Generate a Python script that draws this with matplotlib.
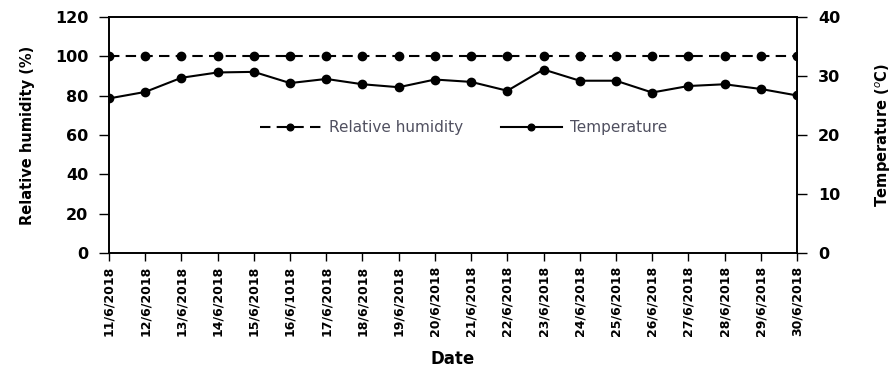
import matplotlib.pyplot as plt
import numpy as np

dates = ['11/6/2018', '12/6/2018', '13/6/2018', '14/6/2018', '15/6/2018',
         '16/6/1018', '17/6/2018', '18/6/2018', '19/6/2018', '20/6/2018',
         '21/6/2018', '22/6/2018', '23/6/2018', '24/6/2018', '25/6/2018',
         '26/6/2018', '27/6/2018', '28/6/2018', '29/6/2018', '30/6/2018']
humidity = [100] * 20
temperature = [26.2, 27.3, 29.7, 30.6, 30.7, 28.8, 29.5, 28.6, 28.1, 29.4,
               29.0, 27.5, 31.1, 29.2, 29.2, 27.2, 28.3, 28.6, 27.8, 26.7]

x = np.arange(len(dates))

fig = plt.figure(figsize=(8.95, 3.67), dpi=100)
ax = fig.add_axes([0.1218, 0.3106, 0.7687, 0.6431])
ax2 = ax.twinx()

l1, = ax.plot(x, humidity, '--', color='black', marker='o', markersize=6,
              linewidth=1.5, dashes=(5, 3), label='Relative humidity')
l2, = ax2.plot(x, temperature, '-', color='black', marker='o', markersize=6,
               linewidth=1.5, label='Temperature')

ax.set_xlim(0, len(dates) - 1)
ax.set_ylim(0, 120)
ax.set_yticks(range(0, 121, 20))
ax2.set_ylim(0, 40)
ax2.set_yticks(range(0, 41, 10))

ax.set_xticks(x)
ax.set_xticklabels(dates, rotation=90, fontsize=9, fontweight='bold')
for lab in ax.get_yticklabels() + ax2.get_yticklabels():
    lab.set_fontweight('bold')
    lab.set_fontsize(11.5)

ax.set_ylabel('Relative humidity (%)', fontsize=10.5, fontweight='bold',
              labelpad=14)
ax2.set_ylabel('Temperature ($^o$C)', fontsize=10.5, fontweight='bold',
               labelpad=24)
ax.set_xlabel('Date', fontsize=12, fontweight='bold', labelpad=10)

for a in (ax, ax2):
    a.tick_params(axis='y', direction='out', length=7, width=1, pad=8)
    for s in a.spines.values():
        s.set_linewidth(1.2)
ax.tick_params(axis='x', direction='out', length=6, width=1, pad=3)

leg = ax.legend(handles=[l1, l2], loc='center', bbox_to_anchor=(0.515, 0.53),
                ncol=2, frameon=False, fontsize=11, handlelength=4,
                handletextpad=0.5, columnspacing=2.5, markerscale=0.8)
for t in leg.get_texts():
    t.set_color('#505060')

fig.savefig('out.png', dpi=100)
